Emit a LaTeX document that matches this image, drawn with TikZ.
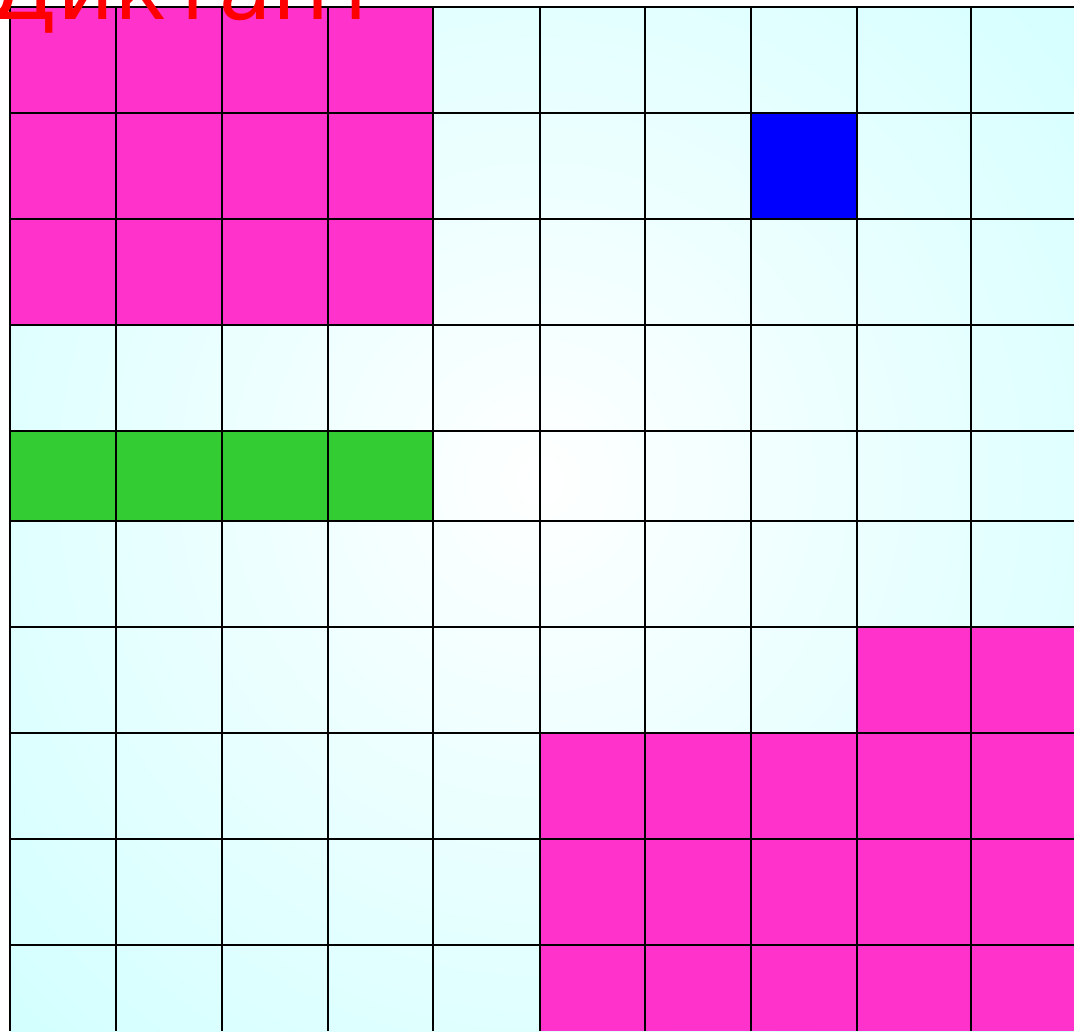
\documentclass[tikz,border=0pt]{standalone}
\usepackage{fontspec}
\newfontfamily\titlefont{DejaVu Sans}
\definecolor{pinkc}{HTML}{FF33CC}
\definecolor{greenc}{HTML}{33CC33}
\definecolor{bluec}{HTML}{0000FF}
\definecolor{cyanc}{HTML}{C6FFFF}
\colorlet{cyanA}{cyanc!12!white}
\colorlet{cyanB}{cyanc!80!white}
\pgfdeclareradialshading{gridglow}{\pgfpoint{0bp}{0bp}}{color(0bp)=(white); color(5bp)=(cyanA); color(36bp)=(cyanB); color(56bp)=(cyanc); color(100bp)=(cyanc)}
\tikzset{
  gridline/.style={line width=0.55pt, black},
}
\begin{document}
\begin{tikzpicture}[x=0.01cm,y=-0.01cm]
\useasboundingbox (0,0) rectangle (1074,1031);
% background glow inside grid
\begin{scope}
\clip (10,7) rectangle (1074,1031);
\shade[shading=gridglow] (0,-75) rectangle (1080,1035);
\end{scope}
% coloured cells
\fill[pinkc] (10,7) rectangle (433,325);
\fill[bluec] (751,113) rectangle (857,219);
\fill[greenc] (10,431) rectangle (433,521);
\fill[pinkc] (857,627) rectangle (1074,733);
\fill[pinkc] (540,733) rectangle (1074,1031);
% grid lines
\foreach \x in {10,116,222,328,433,540,645,751,857,971}
  \draw[gridline] (\x,7) -- (\x,1031);
\foreach \y in {7,113,219,325,431,521,627,733,839,945}
  \draw[gridline] (10,\y) -- (1074,\y);
% title
\node[anchor=base west, inner sep=0pt, text=red, font=\titlefont\fontsize{25}{30}\selectfont] (title) at (-12,20) {Диктант};
\end{tikzpicture}
\end{document}
